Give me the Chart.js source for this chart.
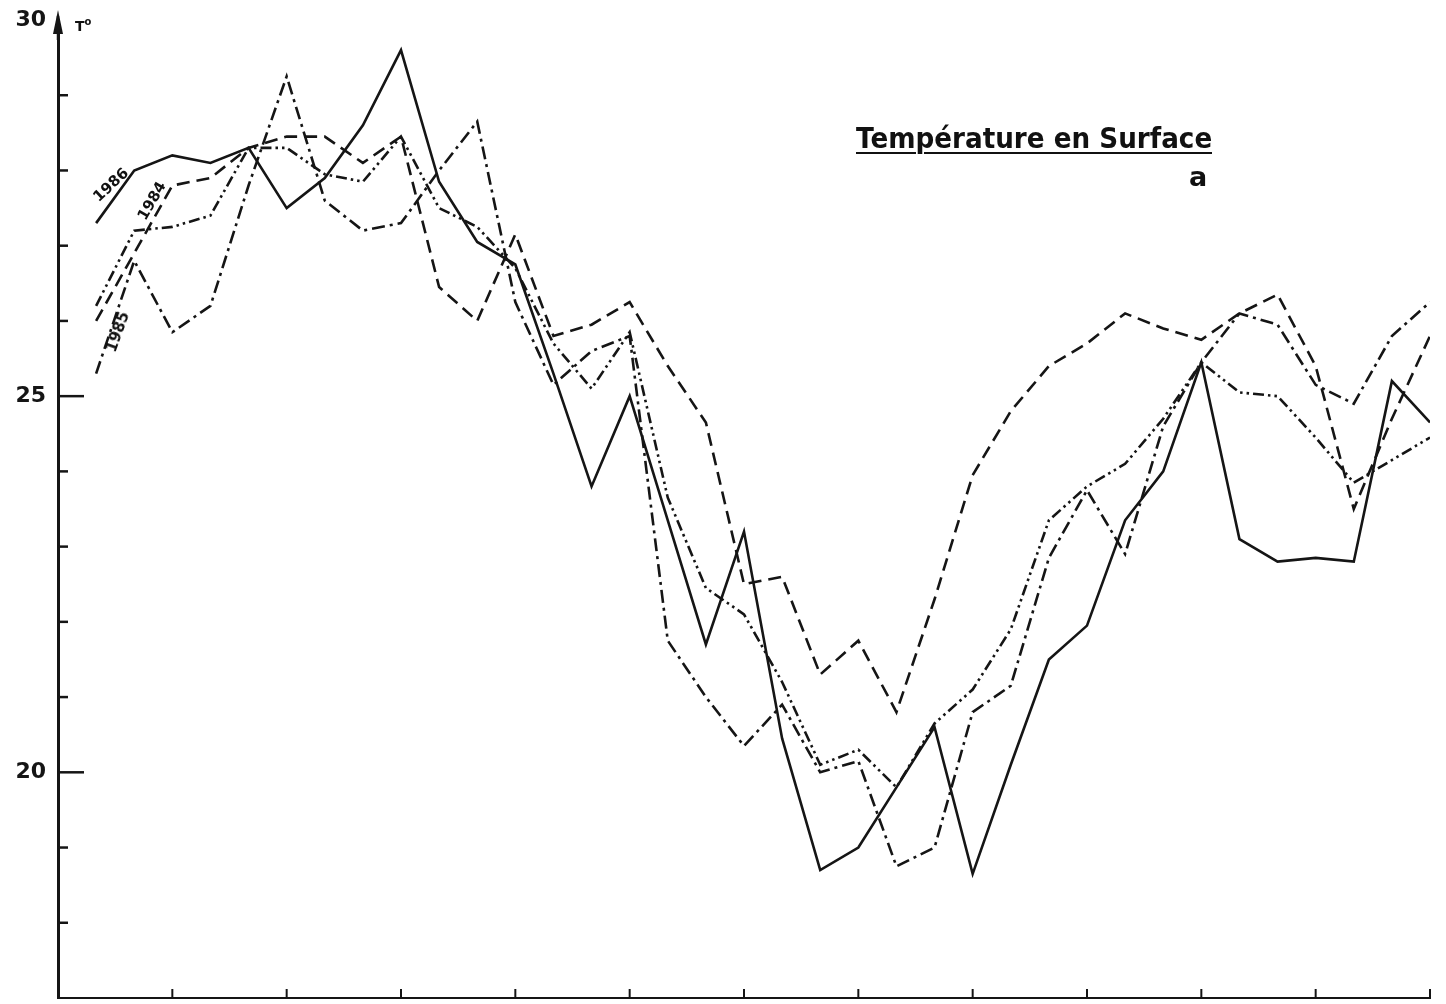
<!DOCTYPE html>
<html>
<head>
<meta charset="utf-8">
<script src="https://cdn.jsdelivr.net/npm/chart.js@4.4.1/dist/chart.umd.min.js"></script>
<style>
  html, body { margin: 0; padding: 0; background: #fff; }
  #wrap { position: relative; width: 1446px; height: 1004px; overflow: hidden; }
  #c { position: absolute; left: 0; top: 0; }
  .lbl { position: absolute; font-family: "DejaVu Sans", sans-serif; font-weight: bold; color: #111; white-space: nowrap; line-height: 1; }
  .year { font-size: 15px; transform-origin: center center; }
</style>
</head>
<body>
<div id="wrap">
  <canvas id="c" width="1446" height="1004"></canvas>
  <div class="lbl" id="title" style="left:856px; top:124px; font-size:29px; text-decoration:underline; text-decoration-thickness:2px; text-underline-offset:4px;">Température en Surface</div>
  <div class="lbl" style="left:1189px; top:163px; font-size:27px;">a</div>
  <div class="lbl" style="left:75px; top:17px; font-size:14px;">T<sup style="font-size:10px">o</sup></div>
  <div class="lbl year" style="left:111px; top:185px; transform: translate(-50%,-50%) rotate(-43deg);">1986</div>
  <div class="lbl year" style="left:152px; top:201px; transform: translate(-50%,-50%) rotate(-60deg);">1984</div>
  <div class="lbl year" style="left:118px; top:332px; transform: translate(-50%,-50%) rotate(-70deg);">1985</div>
</div>
<script>
// decades of the year (3 per month), months marked on the x axis
const decades = [1,2,3,4,5,6,7,8,9,10,11,12,13,14,15,16,17,18,19,20,21,22,23,24,25,26,27,28,29,30,31,32,33,34,35,36];
const monthTicks = [3,6,9,12,15,18,21,24,27,30,33,36];
const yMinorTicks = [18,19,21,22,23,24,26,27,28,29];
const yMajorTicks = [20,25];

const t1986 = [27.3, 28.0, 28.2, 28.1, 28.3, 27.5, 27.9, 28.6, 29.6, 27.85, 27.05, 26.75,
               25.3, 23.8, 25.0, 23.35, 21.7, 23.2, 20.45, 18.7, 19.0, 19.8, 20.6, 18.65,
               20.1, 21.5, 21.95, 23.35, 24.0, 25.45, 23.1, 22.8, 22.85, 22.8, 25.2, 24.65];
const t1984 = [26.0, 26.9, 27.8, 27.9, 28.3, 28.45, 28.45, 28.1, 28.45, 26.45, 26.0, 27.15,
               25.8, 25.95, 26.25, 25.4, 24.65, 22.5, 22.6, 21.3, 21.75, 20.8, 22.3, 23.95,
               24.8, 25.4, 25.7, 26.1, 25.9, 25.75, 26.1, 26.35, 25.4, 23.5, 24.7, 25.8];
const t1985 = [25.3, 26.8, 25.85, 26.2, 27.8, 29.25, 27.6, 27.2, 27.3, 28.0, 28.65, 26.25,
               25.15, 25.6, 25.8, 21.75, 21.0, 20.35, 20.9, 20.0, 20.15, 18.75, 19.0, 20.8,
               21.15, 22.85, 23.75, 22.9, 24.6, 25.45, 26.1, 25.95, 25.15, 24.9, 25.8, 26.25];
const tOther = [26.2, 27.2, 27.25, 27.4, 28.3, 28.3, 27.95, 27.85, 28.45, 27.5, 27.25, 26.7,
                25.7, 25.1, 25.85, 23.65, 22.45, 22.1, 21.2, 20.1, 20.3, 19.8, 20.65, 21.1,
                21.9, 23.35, 23.8, 24.1, 24.7, 25.45, 25.05, 25.0, 24.45, 23.85, 24.15, 24.45];

const ink = '#151515';
function pts(arr) { return decades.map((d, i) => ({ x: d, y: arr[i] })); }
function series(label, arr, dash) {
  return { label: label, data: pts(arr), borderColor: ink, borderWidth: 2.6, borderDash: dash,
           pointRadius: 0, tension: 0, fill: false };
}

const axisDecor = {
  id: 'axisDecor',
  afterDraw(chart) {
    const ctx = chart.ctx, x = chart.scales.x, y = chart.scales.y;
    ctx.save();
    ctx.strokeStyle = ink; ctx.fillStyle = ink; ctx.lineWidth = 2.5;
    yMinorTicks.forEach(v => {
      const py = y.getPixelForValue(v);
      ctx.beginPath(); ctx.moveTo(x.left, py); ctx.lineTo(x.left + 10, py); ctx.stroke();
    });
    yMajorTicks.forEach(v => {
      const py = y.getPixelForValue(v);
      ctx.beginPath(); ctx.moveTo(x.left, py); ctx.lineTo(x.left + 26, py); ctx.stroke();
    });
    // arrow on top of the T axis
    const top = y.getPixelForValue(30);
    ctx.beginPath(); ctx.moveTo(x.left, top + 20); ctx.lineTo(x.left, top - 4); ctx.stroke();
    ctx.beginPath();
    ctx.moveTo(x.left, top - 10); ctx.lineTo(x.left - 5, top + 14); ctx.lineTo(x.left + 5, top + 14);
    ctx.closePath(); ctx.fill();
    // month marks on the time axis
    ctx.lineWidth = 2;
    monthTicks.forEach(m => {
      const px = x.getPixelForValue(m);
      ctx.beginPath(); ctx.moveTo(px, y.bottom); ctx.lineTo(px, y.bottom - 9); ctx.stroke();
    });
    ctx.restore();
  }
};

new Chart(document.getElementById('c').getContext('2d'), {
  type: 'line',
  data: {
    datasets: [
      series('1986', t1986, []),
      series('1984', t1984, [13, 7]),
      series('1985', t1985, [13, 5, 3, 5]),
      series('autre', tOther, [11, 4, 2.5, 4, 2.5, 4])
    ]
  },
  options: {
    responsive: false,
    animation: false,
    devicePixelRatio: 1,
    layout: { padding: { top: 20, right: 16, left: 0, bottom: 0 } },
    plugins: { legend: { display: false }, tooltip: { enabled: false }, title: { display: false } },
    scales: {
      x: {
        type: 'linear', min: 0, max: 36,
        grid: { display: false, drawTicks: false },
        border: { display: true, color: ink, width: 2 },
        ticks: { display: false },
        afterFit(s) { s.height = 6; s.paddingLeft = 0; s.paddingRight = 0; }
      },
      y: {
        min: 17, max: 30,
        grid: { display: false, drawTicks: false },
        border: { display: true, color: ink, width: 3 },
        ticks: {
          stepSize: 1, padding: 12, color: ink,
          font: { family: 'DejaVu Sans', weight: 'bold', size: 22 },
          callback: v => (v % 5 === 0 ? String(v) : '')
        },
        afterFit(s) { s.width = 58; s.paddingTop = 0; s.paddingBottom = 0; }
      }
    }
  },
  plugins: [axisDecor]
});

// stretch the title to the width it has in the reference
const title = document.getElementById('title');
const w = title.getBoundingClientRect().width;
title.style.transformOrigin = 'left top';
title.style.transform = 'scaleX(' + (356 / w).toFixed(3) + ')';
</script>
</body>
</html>
